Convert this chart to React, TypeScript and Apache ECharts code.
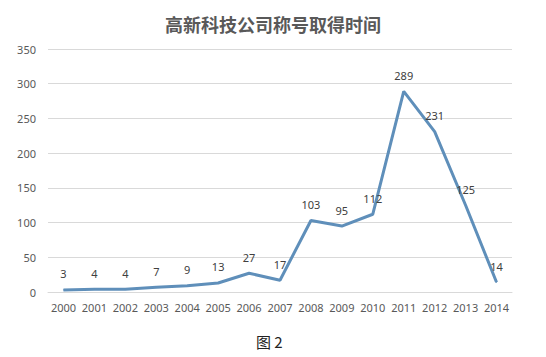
import React, { useEffect, useRef } from "react";
import * as echarts from "echarts";

const years = ["2000","2001","2002","2003","2004","2005","2006","2007","2008","2009","2010","2011","2012","2013","2014"];
const counts = [3,4,4,7,9,13,27,17,103,95,112,289,231,125,14];
const titleText = "高新科技公司称号取得时间";
const captionText = "图 2";

export default function App() {
  const ref = useRef<HTMLDivElement>(null);
  useEffect(() => {
    document.body.style.margin = "0";
    const chart = echarts.init(ref.current!, null, { renderer: "svg" });
    chart.setOption({
      animation: false,
      backgroundColor: "#ffffff",
      title: {
        text: titleText,
        left: "center",
        top: 10,
        textStyle: { fontSize: 18, fontWeight: "bold", color: "#595959", fontFamily: "Noto Sans CJK SC" },
      },
      graphic: [
        {
          type: "text",
          left: 256,
          top: 334,
          style: { text: captionText, fontSize: 15, fill: "#222", fontFamily: "Noto Sans CJK SC" },
        },
      ],
      grid: { left: 48, right: 34, top: 49, bottom: 65 },
      xAxis: {
        type: "category",
        data: years,
        boundaryGap: true,
        axisLine: { show: true, lineStyle: { color: "#d9d9d9" } },
        axisTick: { show: false },
        axisLabel: { interval: 0, color: "#595959", fontSize: 11, margin: 10, fontFamily: "Noto Sans" },
      },
      yAxis: {
        type: "value",
        min: 0,
        max: 350,
        interval: 50,
        axisLine: { show: false },
        axisTick: { show: false },
        axisLabel: { color: "#595959", fontSize: 11, margin: 12, fontFamily: "Noto Sans" },
        splitLine: { lineStyle: { color: "#d9d9d9" } },
      },
      series: [
        {
          type: "line",
          data: counts,
          symbol: "circle",
          symbolSize: 1,
          showSymbol: true,
          itemStyle: { color: "#5F8FBA" },
          lineStyle: { color: "#5F8FBA", width: 3 },
          label: {
            show: true,
            position: "top",
            distance: 10,
            color: "#404040",
            fontSize: 11,
            fontFamily: "Noto Sans",
          },
        },
      ],
    });
    return () => chart.dispose();
  }, []);
  return <div ref={ref} style={{ width: 546, height: 357 }} />;
}
